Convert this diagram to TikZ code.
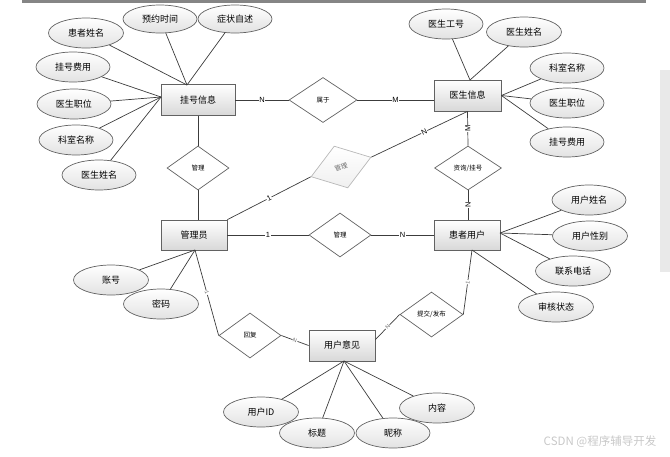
\documentclass[tikz,border=0pt]{standalone}
\usepackage{fontspec}
\setmainfont{Liberation Sans}
\newfontfamily\cjk{Noto Sans CJK SC}
\usepackage{tikz}
\usetikzlibrary{shapes.geometric}
\definecolor{lineclr}{HTML}{3C3C3C}
\definecolor{boxline}{HTML}{626262}
\definecolor{boxbot}{HTML}{D8D8D8}
\definecolor{ovalbot}{HTML}{E2E2E2}
\definecolor{faint}{HTML}{B8B8B8}
\definecolor{cardclr}{HTML}{6A6A6A}
\definecolor{barclr}{HTML}{858585}
\definecolor{panel}{HTML}{E9E9E9}
\definecolor{mark}{HTML}{C8C8C8}
\tikzset{
  ent/.style={rectangle, draw=boxline, line width=0.8pt, top color=white, bottom color=boxbot,
    minimum width=67, minimum height=31, inner sep=0, font=\cjk\fontsize{9}{9}\selectfont},
  att/.style={ellipse, draw=boxline, line width=0.7pt, top color=white, bottom color=ovalbot,
    minimum width=74, minimum height=30, inner sep=0, font=\cjk\fontsize{9}{9}\selectfont},
  rel/.style={diamond, draw=boxline, line width=0.7pt, fill=white,
    minimum width=62, minimum height=44, inner sep=0, font=\cjk\fontsize{6.5}{6.5}\selectfont},
  relg/.style={rel, draw=faint, top color=white, bottom color=black!6, text=cardclr},
  lnk/.style={draw=lineclr, line width=0.7pt},
  card/.style={fill=white, inner sep=0.6pt, font=\fontsize{7.5}{7.5}\selectfont},
  cardg/.style={card, text=cardclr, font=\fontsize{5.5}{5.5}\selectfont, sloped}
}
\begin{document}
\begin{tikzpicture}[x=1pt, y=-1pt]
  \useasboundingbox (0,0) rectangle (670,456);
  \fill[barclr] (22,0) rectangle (646,3);
  \fill[panel] (660,70) rectangle (670,272);

  % entities
  \node[ent, minimum width=74] (reg) at (198,100) {挂号信息};
  \node[ent] (doc) at (467.5,95.5) {医生信息};
  \node[ent, minimum width=66, minimum height=30] (admin) at (194,235) {管理员};
  \node[ent, minimum width=66, minimum height=30] (pat) at (467,235) {患者用户};
  \node[ent, minimum width=66] (fb) at (342,345.5) {用户意见};

  % relations
  \node[rel, minimum width=68, minimum height=45] (belong) at (323,100) {属于};
  \node[rel] (mgmt1) at (198,168) {管理};
  \node[relg, minimum width=63, rotate=18] (mgmt2) at (341,167) {管理};
  \node[rel, minimum width=67] (consult) at (468,168) {资询/挂号};
  \node[rel] (mgmt3) at (340,235) {管理};
  \node[rel, minimum height=45] (reply) at (250,335.5) {回复};
  \node[rel, minimum width=63, minimum height=45] (submit) at (431.5,314.5) {提交/发布};

  % attributes of 挂号信息
  \node[att, minimum width=75] (rname) at (86,33) {患者姓名};
  \node[att, minimum height=28] (rtime) at (160,19) {预约时间};
  \node[att, minimum height=28] (rsym) at (235,19) {症状自述};
  \node[att] (rfee) at (73,67) {挂号费用};
  \node[att] (rpos) at (74,104) {医生职位};
  \node[att] (rdept) at (76,140) {科室名称};
  \node[att] (rdoc) at (99,175) {医生姓名};
  \coordinate (reg-t) at (187,85);
  \coordinate (reg-l) at (161,97);
  \foreach \a in {rname,rtime,rsym} \draw[lnk] (\a) -- (reg-t);
  \foreach \a in {rfee,rpos,rdept,rdoc} \draw[lnk] (\a) -- (reg-l);

  % attributes of 医生信息
  \node[att] (dno) at (446,24) {医生工号};
  \node[att, minimum width=75] (dname) at (524,32) {医生姓名};
  \node[att] (ddept) at (567,68) {科室名称};
  \node[att] (dpos) at (567,103) {医生职位};
  \node[att] (dfee) at (567,142) {挂号费用};
  \coordinate (doc-t) at (470,80);
  \foreach \a in {dno,dname} \draw[lnk] (\a) -- (doc-t);
  \foreach \a in {ddept,dpos,dfee} \draw[lnk] (\a) -- (doc.east);

  % attributes of 患者用户
  \node[att] (pname) at (589,200) {用户姓名};
  \node[att, minimum width=75] (psex) at (590,236) {用户性别};
  \node[att, minimum width=75] (ptel) at (573,271) {联系电话};
  \node[att, minimum width=75] (pstate) at (556,307) {审核状态};
  \coordinate (pat-r) at (500,233);
  \coordinate (pat-b) at (472,250);
  \foreach \a in {pname,psex,ptel} \draw[lnk] (\a) -- (pat-r);
  \draw[lnk] (pstate) -- (pat-b);

  % attributes of 管理员
  \node[att, minimum width=75] (acc) at (111,280) {账号};
  \node[att, minimum width=75] (pwd) at (161,304) {密码};
  \coordinate (admin-b) at (195,250);
  \foreach \a in {acc,pwd} \draw[lnk] (\a) -- (admin-b);

  % attributes of 用户意见
  \node[att, minimum width=75] (uid) at (261,412) {用户ID};
  \node[att, minimum width=75] (title) at (317,433) {标题};
  \node[att] (nick) at (393,433) {昵称};
  \node[att, minimum width=75] (body) at (437,408) {内容};
  \coordinate (fb-b) at (344,361);
  \foreach \a in {uid,title,nick,body} \draw[lnk] (\a) -- (fb-b);

  % relation links
  \draw[lnk] (reg.east) -- node[card] {N} (belong.west);
  \draw[lnk] (belong.east) -- node[card] {M} (doc.west |- belong.east);
  \draw[lnk] (reg.south) -- (mgmt1.north);
  \draw[lnk] (mgmt1.south) -- (mgmt1.south |- admin.north);
  \draw[lnk] (admin.north east) -- node[card, sloped] {1} (mgmt2.west);
  \draw[lnk] (mgmt2.east) -- node[card, sloped, pos=0.55] {N} (doc.south);
  \draw[lnk] (doc.south) -- node[card, rotate=90] {M} (consult.north);
  \draw[lnk] (consult.south) -- node[card, rotate=90] {N} (consult.south |- pat.north);
  \draw[lnk] (admin.east) -- node[card] {1} (mgmt3.west);
  \draw[lnk] (mgmt3.east) -- node[card] {N} (pat.west);
  \draw[lnk] (admin-b) -- node[cardg, pos=0.5] {1} (reply.west);
  \draw[lnk] (reply.east) -- node[cardg] {N} (fb.west);
  \draw[lnk] (fb.10) -- node[cardg] {N} (submit.west);
  \draw[lnk] (submit.east) -- node[cardg] {1} (pat-b);

  \node[text=mark, font=\cjk\fontsize{11.5}{11.5}\selectfont] (wm) at (600,442) {CSDN @程序辅导开发};
\end{tikzpicture}
\end{document}
